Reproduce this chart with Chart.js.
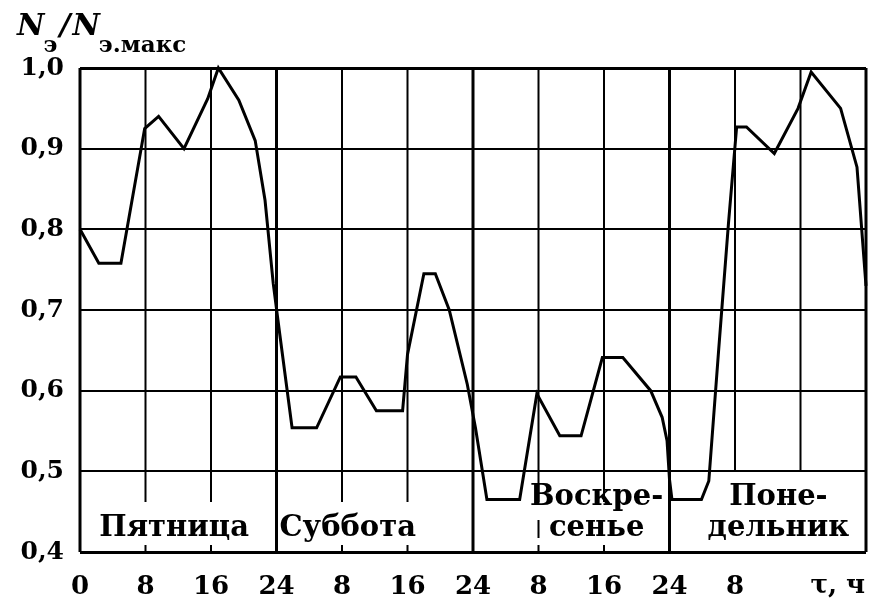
<!DOCTYPE html>
<html>
<head>
<meta charset="utf-8">
<script src="https://cdn.jsdelivr.net/npm/chart.js@4"></script>
<style>
  body { margin: 0; background: #fff; }
  #wrap { width: 878px; height: 603px; position: relative; }
</style>
</head>
<body>
<div id="wrap"><canvas id="c"></canvas></div>
<script>
// hours since Friday 0:00, relative power N/Nmax
const hours = [0, 2.3, 5.0, 7.9, 9.6, 12.7, 15.6, 16.9, 19.4, 21.4, 22.6, 23.6, 24.4, 25.9, 28.9,
  31.8, 33.7, 36.2, 39.4, 40.0, 42.0, 43.4, 45.1, 47.3, 48.3, 49.7, 53.7,
  55.8, 58.6, 61.2, 63.8, 66.3, 69.7, 71.1, 71.7, 72.0, 72.3, 75.9, 76.8,
  78.0, 79.2, 80.2, 81.4, 84.8, 87.7, 89.3, 92.9, 94.9, 96];
const values = [0.80, 0.758, 0.758, 0.925, 0.94, 0.90, 0.962, 1.0, 0.96, 0.91, 0.836, 0.733, 0.67, 0.554, 0.554,
  0.617, 0.617, 0.575, 0.575, 0.645, 0.745, 0.745, 0.70, 0.608, 0.554, 0.465, 0.465,
  0.596, 0.544, 0.544, 0.641, 0.641, 0.60, 0.567, 0.538, 0.49, 0.465, 0.465, 0.488,
  0.65, 0.807, 0.927, 0.927, 0.894, 0.95, 0.995, 0.95, 0.877, 0.73];

const xTickLabels = ['0', '8', '16', '24', '8', '16', '24', '8', '16', '24', '8', '', ''];
const yTickLabels = ['0,4', '0,5', '0,6', '0,7', '0,8', '0,9', '1,0'];
const dayNames = [['Пятница'], ['Суббота'], ['Воскре-', 'сенье'], ['Поне-', 'дельник']];
const axisName = 'τ, ч';

const SERIF = '"DejaVu Serif", "Liberation Serif", serif';

// grid lines that stop above the day names + texts
const decor = {
  id: 'decor',
  beforeDatasetsDraw(chart) {
    const { ctx, chartArea: a, scales: { x, y } } = chart;
    ctx.save();
    ctx.strokeStyle = '#000';
    for (let h = 0; h <= 96; h += 8) {
      const px = x.getPixelForValue(h);
      const full = h % 24 === 0;
      ctx.lineWidth = full ? 3 : 2;
      ctx.beginPath();
      ctx.moveTo(px, a.top);
      if (full) {
        ctx.lineTo(px, a.bottom);
      } else {
        ctx.lineTo(px, y.getPixelForValue(h >= 80 ? 0.5 : 0.462));
        if (h < 72) {
          ctx.moveTo(px, a.bottom - 7);
          ctx.lineTo(px, a.bottom);
        }
        if (h === 56) {
          ctx.moveTo(px, a.bottom - 32);
          ctx.lineTo(px, a.bottom - 14);
        }
      }
      ctx.stroke();
    }
    ctx.restore();
  },
  afterDraw(chart) {
    const { ctx, chartArea: a, scales: { x } } = chart;
    ctx.save();
    ctx.fillStyle = '#000';
    ctx.textBaseline = 'alphabetic';

    // day names
    ctx.font = 'bold 29px ' + SERIF;
    ctx.textAlign = 'center';
    const centers = [11.5, 32.7, 63.1, 85.3];
    dayNames.forEach((lines, i) => {
      const cx = x.getPixelForValue(centers[i]);
      if (lines.length === 1) {
        ctx.fillText(lines[0], cx, a.bottom - 16);
      } else {
        ctx.fillText(lines[0], cx, a.bottom - 47);
        ctx.fillText(lines[1], cx, a.bottom - 16);
      }
    });

    // axis name
    ctx.textAlign = 'left';
    ctx.font = 'bold 26px ' + SERIF;
    ctx.fillText(axisName, x.getPixelForValue(88) + 10, 593);

    // y title N_э/N_э.макс
    let px = 17;
    const part = (txt, font, base, gap) => {
      ctx.font = font;
      ctx.fillText(txt, px, base);
      px += ctx.measureText(txt).width + (gap || 0);
    };
    part('N', 'italic bold 30px ' + SERIF, 35, -1);
    part('э', 'bold 23px ' + SERIF, 52, 2);
    part('/', 'italic bold 30px ' + SERIF, 35, 2);
    part('N', 'italic bold 30px ' + SERIF, 35, -1);
    part('э.макс', 'bold 23px ' + SERIF, 52);
    ctx.restore();
  }
};

new Chart(document.getElementById('c'), {
  type: 'line',
  data: {
    datasets: [{
      data: hours.map((h, i) => ({ x: h, y: values[i] })),
      borderColor: '#000',
      borderWidth: 3,
      pointRadius: 0,
      tension: 0,
      fill: false,
      clip: 4
    }]
  },
  options: {
    responsive: true,
    maintainAspectRatio: false,
    animation: false,
    layout: { padding: { top: 68, right: 6, left: 0, bottom: 0 } },
    plugins: { legend: { display: false }, tooltip: { enabled: false } },
    scales: {
      x: {
        type: 'linear',
        min: 0,
        max: 96,
        afterFit: s => { s.height = 51; },
        afterBuildTicks: s => { s.ticks = xTickLabels.map((_, i) => ({ value: i * 8 })); },
        grid: { display: false },
        border: { display: false },
        ticks: {
          color: '#000',
          padding: 12,
          maxRotation: 0,
          autoSkip: false,
          font: { family: SERIF, size: 26, weight: 'bold' },
          callback: (v, i) => xTickLabels[i]
        }
      },
      y: {
        min: 0.4,
        max: 1.0,
        afterFit: s => { s.width = 80; },
        afterBuildTicks: s => { s.ticks = yTickLabels.map((_, i) => ({ value: 0.4 + i * 0.1 })); },
        grid: {
          color: '#000',
          drawTicks: false,
          lineWidth: c => (c.index === 0 || c.index === yTickLabels.length - 1) ? 3 : 2
        },
        border: { display: false },
        ticks: {
          color: '#000',
          padding: 16,
          font: { family: SERIF, size: 25, weight: 'bold' },
          callback: (v, i) => yTickLabels[i]
        }
      }
    }
  },
  plugins: [decor]
});
</script>
</body>
</html>
